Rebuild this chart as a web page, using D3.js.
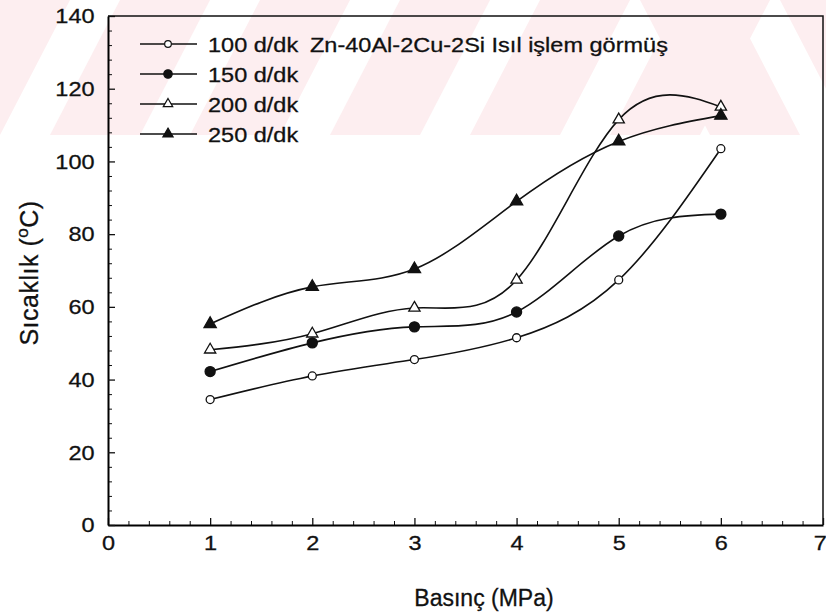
<!DOCTYPE html>
<html>
  <head>
    <script src="https://d3js.org/d3.v7.min.js"></script>
    <style>
      body { margin: 0; background: #fff; }
      svg { display: block; font-family: "Liberation Sans", Arial, sans-serif; }
    </style>
  </head>
  <body>
    <svg width="826" height="615"></svg>
  </body>
  <script>
    // values
    const pressure = [1, 2, 3, 4, 5, 6];
    const t100 = [34.5, 41, 45.5, 51.5, 67.4, 103.5];
    const t150 = [42.2, 50.1, 54.5, 58.6, 79.5, 85.5];
    const t200 = [48.2, 52.6, 59.7, 67.4, 111.5, 115];
    const t250 = [55.3, 65.5, 70.4, 89, 105.5, 112.6];
    const seriesNames = ['100 d/dk', '150 d/dk', '200 d/dk', '250 d/dk'];
    const legendTitle = 'Zn-40Al-2Cu-2Si Isıl işlem görmüş';
    const xTicks = [0, 1, 2, 3, 4, 5, 6, 7];
    const yTicks = [0, 20, 40, 60, 80, 100, 120, 140];

    const svg = d3.select('svg');
    const width = 826, height = 615;
    const margin = { top: 16, right: 3, bottom: 90, left: 108 };
    const ink = '#111';
    const stretch = 'scale(1.12,1)';

    const x = d3.scaleLinear().domain([0, 7]).range([margin.left, width - margin.right]);
    const y = d3.scaleLinear().domain([0, 140]).range([height - margin.bottom, margin.top]);

    // pale pink watermark band at the top of the scan
    const wm = svg.append('g');
    wm.append('defs').append('clipPath').attr('id', 'band')
      .append('rect').attr('x', 0).attr('y', 0).attr('width', width).attr('height', 135);
    const wg = wm.append('g').attr('clip-path', 'url(#band)');
    for (let i = -1; i < 5; i++) {
      const x0 = 50 + i * 140;
      wg.append('path')
        .attr('d', `M${x0},135 L${x0 + 90},135 L${x0 + 160},0 L${x0 + 70},0 Z`)
        .attr('fill', '#fdeef0');
    }
    for (let i = 0; i < 3; i++) {
      const x0 = 640 + i * 140;
      wg.append('path')
        .attr('d', `M${x0},0 L${x0 + 90},0 L${x0 + 160},135 L${x0 + 70},135 Z`)
        .attr('fill', '#fdeef0');
    }

    const g = svg.append('g');

    // axes
    const xAxis = d3.axisBottom(x).tickValues(xTicks).tickFormat(d3.format('d'))
      .tickSizeInner(-7).tickSizeOuter(0).tickPadding(10);
    const yAxis = d3.axisLeft(y).tickValues(yTicks).tickFormat(d3.format('d'))
      .tickSizeInner(-7).tickSizeOuter(0).tickPadding(12);

    const xMinor = d3.range(0, 7.001, 0.2).filter(v => Math.abs(v - Math.round(v)) > 0.01);
    const yMinor = d3.range(0, 141, 4).filter(v => v % 20 !== 0);

    g.append('g').attr('transform', `translate(0,${y(0)})`)
      .call(d3.axisBottom(x).tickValues(xMinor).tickFormat('').tickSizeInner(-4).tickSizeOuter(0))
      .call(a => a.select('.domain').remove());
    g.append('g').attr('transform', `translate(${x(0)},0)`)
      .call(d3.axisLeft(y).tickValues(yMinor).tickFormat('').tickSizeInner(-4).tickSizeOuter(0))
      .call(a => a.select('.domain').remove());

    const xg = g.append('g').attr('transform', `translate(0,${y(0)})`).call(xAxis);
    const yg = g.append('g').attr('transform', `translate(${x(0)},0)`).call(yAxis);
    [xg, yg].forEach(a => {
      a.select('.domain').attr('stroke-width', 2);
      a.selectAll('.tick line').attr('stroke-width', 1.3);
      a.selectAll('text').attr('font-size', 21).attr('fill', ink)
        .attr('stroke', ink).attr('stroke-width', 0.3)
        .attr('font-family', '"Liberation Sans", Arial, sans-serif')
        .attr('transform', stretch);
    });
    // last x label sits at the right edge of the picture
    xg.selectAll('.tick').filter(d => d === 7).select('text')
      .attr('text-anchor', 'end').attr('x', 3);
    g.selectAll('.tick line').attr('stroke', ink);

    // top and right border
    g.append('path')
      .attr('d', `M${x(0)},${y(140)} H${x(7)} V${y(0)}`)
      .attr('fill', 'none').attr('stroke', ink).attr('stroke-width', 1.5);

    // series
    const series = [
      { name: seriesNames[0], vals: t100, shape: d3.symbolCircle, size: 50, fill: '#fff' },
      { name: seriesNames[1], vals: t150, shape: d3.symbolCircle, size: 80, fill: ink },
      { name: seriesNames[2], vals: t200, shape: d3.symbolTriangle, size: 55, fill: '#fff' },
      { name: seriesNames[3], vals: t250, shape: d3.symbolTriangle, size: 65, fill: ink }
    ];

    const line = d3.line().x(d => x(d[0])).y(d => y(d[1])).curve(d3.curveNatural);

    series.forEach(s => {
      const pts = pressure.map((p, i) => [p, s.vals[i]]);
      g.append('path').datum(pts).attr('d', line)
        .attr('fill', 'none').attr('stroke', ink).attr('stroke-width', 1.6);
      g.selectAll(null).data(pts).enter().append('path')
        .attr('d', d3.symbol().type(s.shape).size(s.size))
        .attr('transform', d => `translate(${x(d[0])},${y(d[1])})`)
        .attr('fill', s.fill).attr('stroke', ink).attr('stroke-width', 1.3);
    });

    // legend
    const leg = g.append('g');
    series.forEach((s, i) => {
      const cy = 44 + i * 30;
      leg.append('line').attr('x1', 140).attr('x2', 197).attr('y1', cy).attr('y2', cy)
        .attr('stroke', ink).attr('stroke-width', 1.6);
      leg.append('path')
        .attr('d', d3.symbol().type(s.shape).size(s.size * 0.7))
        .attr('transform', `translate(168,${cy})`)
        .attr('fill', s.fill).attr('stroke', ink).attr('stroke-width', 1.2);
      leg.append('text').attr('transform', `translate(208,${cy + 8}) ${stretch}`)
        .attr('font-size', 21).attr('fill', ink).attr('stroke', ink).attr('stroke-width', 0.3)
        .text(s.name);
    });
    leg.append('text').attr('transform', `translate(310,52) ${stretch}`)
      .attr('font-size', 21).attr('fill', ink).attr('stroke', ink).attr('stroke-width', 0.3)
      .text(legendTitle);

    // axis titles
    svg.append('text').attr('x', 484).attr('y', 606).attr('text-anchor', 'middle')
      .attr('font-size', 23).attr('fill', ink).attr('stroke', ink).attr('stroke-width', 0.3)
      .text('Basınç (MPa)');

    const yl = svg.append('text')
      .attr('transform', 'translate(38,273) rotate(-90)')
      .attr('text-anchor', 'middle').attr('font-size', 25).attr('letter-spacing', 0.5)
      .attr('fill', ink).attr('stroke', ink).attr('stroke-width', 0.3);
    yl.append('tspan').text('Sıcaklık (');
    yl.append('tspan').attr('dy', -10).attr('font-size', 17).text('o');
    yl.append('tspan').attr('dy', 10).text('C)');
  </script>
</html>
